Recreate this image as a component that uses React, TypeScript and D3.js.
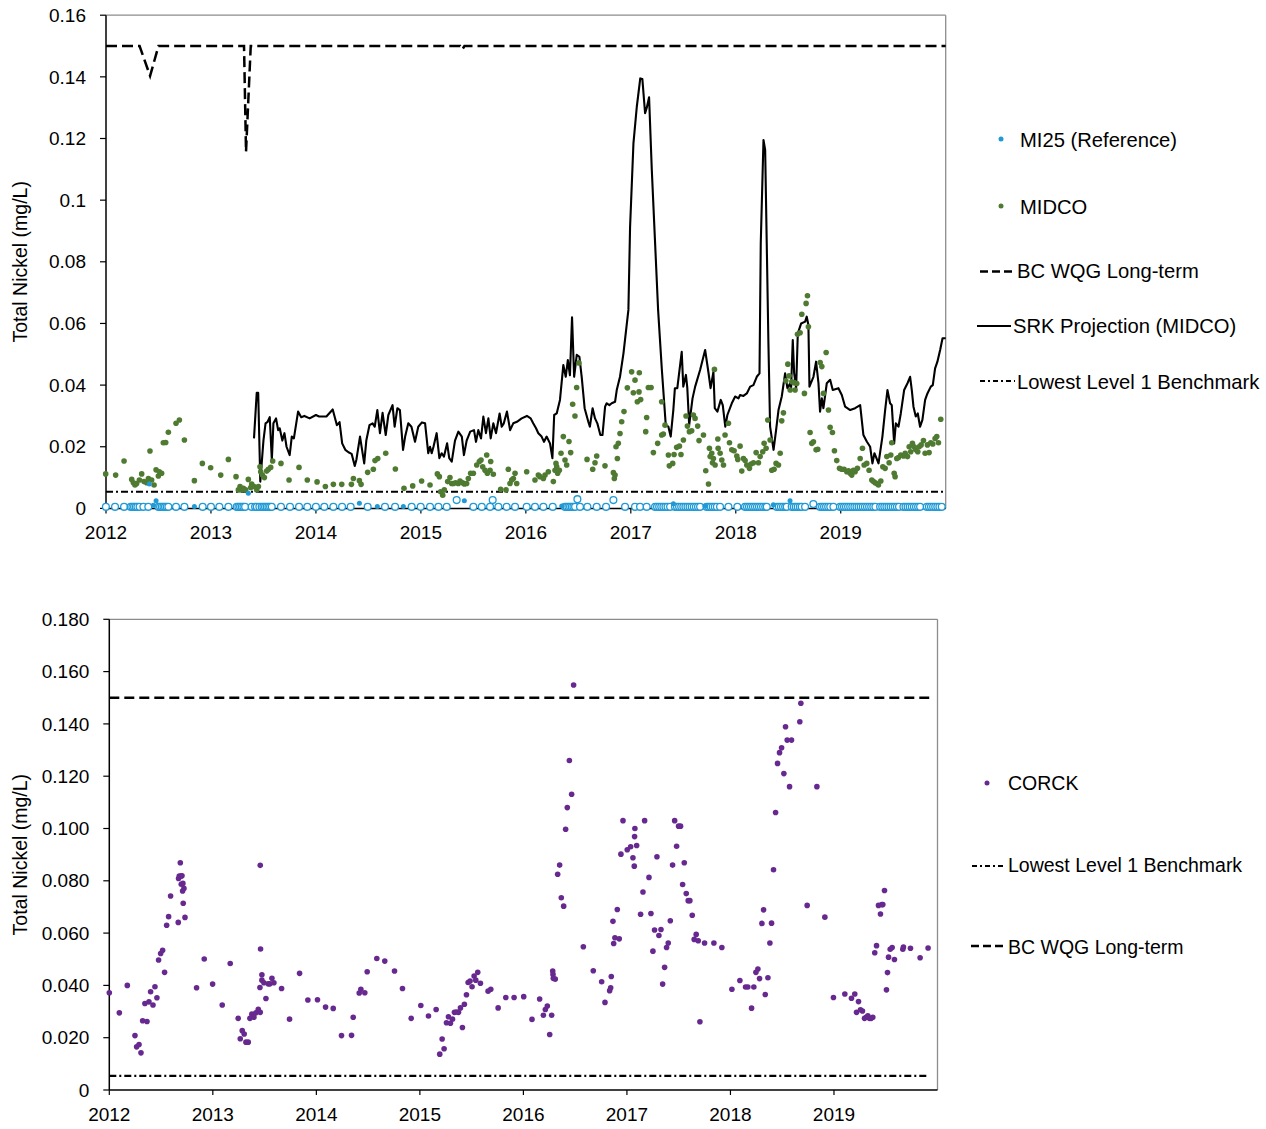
import React from "react";
import * as d3 from "d3";

const FONT = "'Liberation Sans', Arial, Helvetica, sans-serif";

// ---------- axis ticks ----------
const yearTicks = [2012, 2013, 2014, 2015, 2016, 2017, 2018, 2019];
const topYTicks = [0, 0.02, 0.04, 0.06, 0.08, 0.1, 0.12, 0.14, 0.16];
const topYTickLabels = ["0", "0.02", "0.04", "0.06", "0.08", "0.1", "0.12", "0.14", "0.16"];
const bottomYTicks = [0, 0.02, 0.04, 0.06, 0.08, 0.1, 0.12, 0.14, 0.16, 0.18];
const bottomYTickLabels = ["0", "0.020", "0.040", "0.060", "0.080", "0.100", "0.120", "0.140", "0.160", "0.180"];

// ---------- guideline values (mg/L) ----------
const lowestLevel1Benchmark = 0.0054;
const bcWqgLongTerm = 0.15;

// BC WQG long-term (hardness dependent) at MIDCO: [decimal year, mg/L]
const bcWqgTop: [number, number][] = [
  [2012.0, 0.15], [2012.32, 0.15], [2012.42, 0.1403], [2012.5, 0.15],
  [2013.315, 0.15], [2013.334, 0.1157], [2013.379, 0.15],
  [2015.375, 0.15], [2015.395, 0.1489], [2015.415, 0.15], [2020.0, 0.15],
];

// MI25 (Reference) – results below detection limit (open markers)
const mi25NonDetect: [number, number][] = [
  [2011.999, 0.0005], [2012.086, 0.0005], [2012.172, 0.0005], [2012.235, 0.0005], [2012.251, 0.0005],
  [2012.267, 0.0005], [2012.283, 0.0005], [2012.299, 0.0005], [2012.32, 0.0005], [2012.356, 0.0005],
  [2012.403, 0.0005], [2012.499, 0.0005], [2012.515, 0.0005], [2012.531, 0.0005], [2012.547, 0.0005],
  [2012.562, 0.0005], [2012.578, 0.0005], [2012.594, 0.0005], [2012.667, 0.0005], [2012.747, 0.0005],
  [2012.921, 0.0005], [2013.0, 0.0005], [2013.08, 0.0005], [2013.166, 0.0005], [2013.245, 0.0005],
  [2013.261, 0.0005], [2013.277, 0.0005], [2013.293, 0.0005], [2013.309, 0.0005], [2013.325, 0.0005],
  [2013.388, 0.0005], [2013.42, 0.0005], [2013.436, 0.0005], [2013.461, 0.0005], [2013.483, 0.0005],
  [2013.499, 0.0005], [2013.515, 0.0005], [2013.531, 0.0005], [2013.547, 0.0005], [2013.563, 0.0005],
  [2013.579, 0.0005], [2013.667, 0.0005], [2013.753, 0.0005], [2013.839, 0.0005], [2013.918, 0.0005],
  [2014.0, 0.0005], [2014.08, 0.0005], [2014.166, 0.0005], [2014.249, 0.0005], [2014.331, 0.0005],
  [2014.493, 0.0005], [2014.658, 0.0005], [2014.754, 0.0005], [2014.912, 0.0005], [2014.998, 0.0005],
  [2015.087, 0.0005], [2015.167, 0.0005], [2015.246, 0.0005], [2015.341, 0.0027], [2015.5, 0.0005],
  [2015.58, 0.0005], [2015.659, 0.0005], [2015.684, 0.0027], [2015.738, 0.0005], [2015.817, 0.0005],
  [2015.897, 0.0005], [2016.008, 0.0005], [2016.087, 0.0005], [2016.167, 0.0005], [2016.256, 0.0005],
  [2016.373, 0.0005], [2016.389, 0.0005], [2016.405, 0.0005], [2016.421, 0.0005], [2016.437, 0.0005],
  [2016.453, 0.0005], [2016.469, 0.0005], [2016.491, 0.003], [2016.516, 0.0005], [2016.586, 0.0005],
  [2016.675, 0.0005], [2016.764, 0.0005], [2016.834, 0.0027], [2016.945, 0.0005], [2017.04, 0.0005],
  [2017.088, 0.0005], [2017.151, 0.0005], [2017.231, 0.0005], [2017.25, 0.0005], [2017.27, 0.0005],
  [2017.29, 0.0005], [2017.31, 0.0005], [2017.33, 0.0005], [2017.35, 0.0005], [2017.374, 0.0005],
  [2017.421, 0.0005], [2017.44, 0.0005], [2017.46, 0.0005], [2017.48, 0.0005], [2017.5, 0.0005],
  [2017.52, 0.0005], [2017.54, 0.0005], [2017.56, 0.0005], [2017.58, 0.0005], [2017.6, 0.0005],
  [2017.62, 0.0005], [2017.64, 0.0005], [2017.66, 0.0005], [2017.723, 0.0005], [2017.742, 0.0005],
  [2017.761, 0.0005], [2017.78, 0.0005], [2017.8, 0.0005], [2017.82, 0.0005], [2017.85, 0.0005],
  [2017.93, 0.0005], [2018.015, 0.0005], [2018.088, 0.0005], [2018.107, 0.0005], [2018.126, 0.0005],
  [2018.145, 0.0005], [2018.164, 0.0005], [2018.183, 0.0005], [2018.202, 0.0005], [2018.221, 0.0005],
  [2018.24, 0.0005], [2018.26, 0.0005], [2018.28, 0.0005], [2018.295, 0.0005], [2018.39, 0.0005],
  [2018.41, 0.0005], [2018.43, 0.0005], [2018.45, 0.0005], [2018.47, 0.0005], [2018.485, 0.0005],
  [2018.533, 0.0005], [2018.552, 0.0005], [2018.571, 0.0005], [2018.59, 0.0005], [2018.61, 0.0005],
  [2018.628, 0.0005], [2018.66, 0.0005], [2018.739, 0.0014], [2018.803, 0.0005], [2018.822, 0.0005],
  [2018.841, 0.0005], [2018.86, 0.0005], [2018.88, 0.0005], [2018.9, 0.0005], [2018.93, 0.0005],
  [2018.993, 0.0005], [2019.012, 0.0005], [2019.031, 0.0005], [2019.05, 0.0005], [2019.07, 0.0005],
  [2019.09, 0.0005], [2019.11, 0.0005], [2019.13, 0.0005], [2019.15, 0.0005], [2019.17, 0.0005],
  [2019.19, 0.0005], [2019.21, 0.0005], [2019.23, 0.0005], [2019.25, 0.0005], [2019.27, 0.0005],
  [2019.29, 0.0005], [2019.31, 0.0005], [2019.33, 0.0005], [2019.375, 0.0005], [2019.395, 0.0005],
  [2019.415, 0.0005], [2019.435, 0.0005], [2019.455, 0.0005], [2019.475, 0.0005], [2019.495, 0.0005],
  [2019.515, 0.0005], [2019.535, 0.0005], [2019.555, 0.0005], [2019.597, 0.0005], [2019.617, 0.0005],
  [2019.637, 0.0005], [2019.657, 0.0005], [2019.677, 0.0005], [2019.697, 0.0005], [2019.717, 0.0005],
  [2019.737, 0.0005], [2019.756, 0.0005], [2019.82, 0.0005], [2019.84, 0.0005], [2019.86, 0.0005],
  [2019.88, 0.0005], [2019.9, 0.0005], [2019.92, 0.0005], [2019.94, 0.0005], [2019.962, 0.0005],
];

// MI25 (Reference) – detected results
const mi25Detect: [number, number][] = [
  [2012.413, 0.0079], [2012.451, 0.001], [2012.477, 0.0025], [2012.842, 0.0006], [2013.356, 0.0049],
  [2014.414, 0.0017], [2014.585, 0.0006], [2014.833, 0.0006], [2015.414, 0.0025], [2016.342, 0.0008],
  [2017.405, 0.0015], [2017.707, 0.0008], [2018.358, 0.0012], [2018.517, 0.0025],
];

// MIDCO measured total nickel
const midco: [number, number][] = [
  [2011.997, 0.0112], [2012.092, 0.0108], [2012.172, 0.0154], [2012.245, 0.0094], [2012.261, 0.0083],
  [2012.276, 0.0076], [2012.292, 0.0081], [2012.318, 0.0092], [2012.34, 0.0112], [2012.362, 0.0087],
  [2012.388, 0.0083], [2012.404, 0.0097], [2012.419, 0.0186], [2012.435, 0.0092], [2012.458, 0.0076],
  [2012.477, 0.0125], [2012.499, 0.0105], [2012.508, 0.0119], [2012.53, 0.0114], [2012.546, 0.0213],
  [2012.569, 0.0214], [2012.594, 0.0247], [2012.667, 0.0276], [2012.699, 0.0287], [2012.747, 0.0222],
  [2012.842, 0.009], [2012.918, 0.0146], [2012.997, 0.0132], [2013.093, 0.0108], [2013.166, 0.0159],
  [2013.239, 0.0103], [2013.261, 0.006], [2013.277, 0.0071], [2013.293, 0.006], [2013.309, 0.0065],
  [2013.331, 0.006], [2013.356, 0.0094], [2013.379, 0.0068], [2013.388, 0.0079], [2013.41, 0.0071],
  [2013.436, 0.006], [2013.452, 0.0071], [2013.467, 0.0135], [2013.474, 0.0119], [2013.49, 0.0108],
  [2013.509, 0.01], [2013.531, 0.0121], [2013.547, 0.0127], [2013.569, 0.0133], [2013.588, 0.0154],
  [2013.667, 0.0146], [2013.744, 0.0092], [2013.839, 0.0133], [2013.918, 0.0092], [2014.011, 0.0086],
  [2014.09, 0.0071], [2014.166, 0.0078], [2014.246, 0.0078], [2014.338, 0.0078], [2014.357, 0.0097],
  [2014.414, 0.009], [2014.43, 0.0078], [2014.493, 0.0117], [2014.547, 0.0127], [2014.563, 0.0155],
  [2014.589, 0.0162], [2014.665, 0.0179], [2014.757, 0.0128], [2014.839, 0.0065], [2014.922, 0.0073],
  [2015.007, 0.0089], [2015.087, 0.0076], [2015.157, 0.0112], [2015.176, 0.0103], [2015.188, 0.0054],
  [2015.208, 0.0043], [2015.223, 0.006], [2015.255, 0.0087], [2015.277, 0.01], [2015.293, 0.0081],
  [2015.309, 0.0081], [2015.331, 0.0083], [2015.357, 0.0081], [2015.373, 0.0089], [2015.398, 0.0083],
  [2015.414, 0.0079], [2015.436, 0.0081], [2015.452, 0.0097], [2015.474, 0.0114], [2015.5, 0.0114],
  [2015.532, 0.0141], [2015.557, 0.0152], [2015.573, 0.0157], [2015.589, 0.0135], [2015.611, 0.0124],
  [2015.627, 0.0173], [2015.633, 0.0114], [2015.659, 0.0124], [2015.665, 0.0152], [2015.69, 0.0111],
  [2015.76, 0.0062], [2015.811, 0.006], [2015.833, 0.0127], [2015.849, 0.0081], [2015.865, 0.0092],
  [2015.881, 0.0097], [2015.897, 0.0114], [2015.913, 0.0081], [2016.008, 0.0119], [2016.087, 0.0092],
  [2016.119, 0.0108], [2016.135, 0.0103], [2016.167, 0.0097], [2016.183, 0.0108], [2016.214, 0.0119],
  [2016.262, 0.0087], [2016.278, 0.0124], [2016.287, 0.0146], [2016.294, 0.0135], [2016.303, 0.0114],
  [2016.319, 0.0124], [2016.335, 0.0179], [2016.357, 0.0233], [2016.373, 0.0157], [2016.389, 0.0141],
  [2016.411, 0.0217], [2016.427, 0.0181], [2016.446, 0.0338], [2016.468, 0.03], [2016.484, 0.0392],
  [2016.506, 0.0472], [2016.583, 0.0159], [2016.637, 0.0127], [2016.659, 0.0148], [2016.675, 0.017],
  [2016.754, 0.0138], [2016.834, 0.0116], [2016.843, 0.0097], [2016.85, 0.0108], [2016.859, 0.02],
  [2016.872, 0.0162], [2016.881, 0.0211], [2016.897, 0.0243], [2016.913, 0.0281], [2016.935, 0.0314],
  [2016.967, 0.0391], [2017.008, 0.0443], [2017.024, 0.0375], [2017.04, 0.0416], [2017.062, 0.0346],
  [2017.078, 0.0378], [2017.081, 0.044], [2017.094, 0.0353], [2017.142, 0.0249], [2017.151, 0.0295],
  [2017.167, 0.0392], [2017.193, 0.0392], [2017.215, 0.0181], [2017.256, 0.0211], [2017.294, 0.0346],
  [2017.294, 0.0238], [2017.31, 0.0241], [2017.326, 0.027], [2017.358, 0.0173], [2017.367, 0.0138],
  [2017.399, 0.0146], [2017.412, 0.0175], [2017.437, 0.0198], [2017.463, 0.0202], [2017.478, 0.0175],
  [2017.501, 0.0222], [2017.526, 0.03], [2017.539, 0.0267], [2017.558, 0.0249], [2017.58, 0.0252],
  [2017.596, 0.0303], [2017.612, 0.0292], [2017.637, 0.0267], [2017.65, 0.022], [2017.692, 0.0238],
  [2017.714, 0.0122], [2017.74, 0.0079], [2017.749, 0.0195], [2017.756, 0.0168], [2017.771, 0.0179],
  [2017.778, 0.0148], [2017.787, 0.0162], [2017.797, 0.0451], [2017.803, 0.0141], [2017.829, 0.0225],
  [2017.832, 0.0195], [2017.851, 0.0179], [2017.867, 0.0157], [2017.883, 0.0141], [2017.898, 0.0238],
  [2017.93, 0.0276], [2017.94, 0.0213], [2017.962, 0.019], [2017.984, 0.0187], [2018.01, 0.017],
  [2018.019, 0.0159], [2018.041, 0.0202], [2018.057, 0.0121], [2018.073, 0.0162], [2018.089, 0.0155],
  [2018.105, 0.0141], [2018.13, 0.013], [2018.146, 0.0144], [2018.168, 0.0148], [2018.194, 0.0181],
  [2018.216, 0.0148], [2018.232, 0.0168], [2018.257, 0.0184], [2018.27, 0.0211], [2018.289, 0.0195],
  [2018.305, 0.0287], [2018.327, 0.0222], [2018.343, 0.0124], [2018.365, 0.0127], [2018.384, 0.0146],
  [2018.407, 0.0141], [2018.423, 0.0179], [2018.438, 0.0284], [2018.454, 0.031], [2018.477, 0.0414],
  [2018.496, 0.0468], [2018.508, 0.043], [2018.518, 0.0384], [2018.534, 0.0411], [2018.556, 0.0408],
  [2018.565, 0.0384], [2018.581, 0.0405], [2018.588, 0.0565], [2018.613, 0.057], [2018.629, 0.063],
  [2018.654, 0.0373], [2018.67, 0.0665], [2018.683, 0.069], [2018.692, 0.0589], [2018.708, 0.0246],
  [2018.724, 0.0211], [2018.74, 0.0216], [2018.765, 0.019], [2018.781, 0.0192], [2018.804, 0.0473],
  [2018.82, 0.046], [2018.835, 0.0373], [2018.861, 0.0506], [2018.883, 0.0319], [2018.899, 0.0263],
  [2018.921, 0.0246], [2018.94, 0.0187], [2018.962, 0.0155], [2018.988, 0.013], [2019.01, 0.0127],
  [2019.032, 0.0127], [2019.058, 0.0119], [2019.074, 0.0122], [2019.09, 0.0114], [2019.105, 0.0108],
  [2019.121, 0.0124], [2019.137, 0.0119], [2019.159, 0.013], [2019.185, 0.0162], [2019.207, 0.0195],
  [2019.223, 0.0141], [2019.248, 0.0146], [2019.27, 0.0124], [2019.296, 0.0092], [2019.312, 0.0087],
  [2019.328, 0.0083], [2019.344, 0.0081], [2019.359, 0.0076], [2019.382, 0.0089], [2019.401, 0.0135],
  [2019.423, 0.013], [2019.439, 0.0168], [2019.461, 0.0148], [2019.477, 0.0173], [2019.486, 0.0213],
  [2019.509, 0.0114], [2019.518, 0.0103], [2019.534, 0.0162], [2019.55, 0.0165], [2019.572, 0.0173],
  [2019.598, 0.017], [2019.614, 0.0179], [2019.636, 0.0168], [2019.652, 0.02], [2019.667, 0.0184],
  [2019.683, 0.0211], [2019.699, 0.02], [2019.715, 0.019], [2019.734, 0.0184], [2019.747, 0.02],
  [2019.766, 0.0206], [2019.788, 0.022], [2019.804, 0.0179], [2019.826, 0.0206], [2019.842, 0.0181],
  [2019.858, 0.0213], [2019.877, 0.0209], [2019.899, 0.0227], [2019.915, 0.0233], [2019.931, 0.0213],
  [2019.953, 0.0289],
];

// SRK projection for MIDCO
const srkProjection: [number, number][] = [
  [2013.41, 0.0227], [2013.436, 0.0375], [2013.45, 0.0375], [2013.47, 0.0087], [2013.5, 0.022],
  [2013.52, 0.0276], [2013.54, 0.0281], [2013.56, 0.0296], [2013.58, 0.0157], [2013.595, 0.0276],
  [2013.62, 0.0292], [2013.64, 0.0254], [2013.655, 0.026], [2013.68, 0.022], [2013.7, 0.0244],
  [2013.72, 0.02], [2013.75, 0.0173], [2013.77, 0.0233], [2013.79, 0.0227], [2013.83, 0.0314],
  [2013.86, 0.0296], [2013.89, 0.03], [2013.94, 0.0292], [2014.0, 0.0303], [2014.03, 0.0298],
  [2014.1, 0.0298], [2014.16, 0.0321], [2014.2, 0.027], [2014.225, 0.028], [2014.25, 0.0211],
  [2014.28, 0.019], [2014.31, 0.0182], [2014.34, 0.0177], [2014.37, 0.0138], [2014.385, 0.0157],
  [2014.42, 0.0233], [2014.46, 0.0146], [2014.48, 0.022], [2014.51, 0.027], [2014.54, 0.0276],
  [2014.56, 0.0265], [2014.585, 0.0319], [2014.61, 0.0244], [2014.635, 0.031], [2014.665, 0.0238],
  [2014.69, 0.0303], [2014.73, 0.0335], [2014.75, 0.0265], [2014.776, 0.0325], [2014.8, 0.0319],
  [2014.83, 0.019], [2014.85, 0.0233], [2014.88, 0.0276], [2014.91, 0.0265], [2014.944, 0.0216],
  [2014.975, 0.0265], [2015.01, 0.0279], [2015.04, 0.0276], [2015.07, 0.0179], [2015.087, 0.02],
  [2015.103, 0.0179], [2015.12, 0.02], [2015.15, 0.0244], [2015.176, 0.0163], [2015.198, 0.0179],
  [2015.22, 0.0168], [2015.25, 0.0211], [2015.27, 0.0163], [2015.294, 0.0152], [2015.325, 0.022],
  [2015.357, 0.0249], [2015.39, 0.0233], [2015.41, 0.0173], [2015.436, 0.022], [2015.47, 0.0249],
  [2015.506, 0.0254], [2015.525, 0.0216], [2015.547, 0.0254], [2015.573, 0.0227], [2015.595, 0.0298],
  [2015.62, 0.0244], [2015.643, 0.0292], [2015.665, 0.0227], [2015.69, 0.0276], [2015.716, 0.0244],
  [2015.75, 0.0308], [2015.77, 0.0265], [2015.79, 0.0276], [2015.82, 0.0314], [2015.85, 0.0254],
  [2015.88, 0.0276], [2015.915, 0.0281], [2015.96, 0.0292], [2016.01, 0.03], [2016.046, 0.0292],
  [2016.07, 0.0276], [2016.097, 0.026], [2016.119, 0.0244], [2016.15, 0.0233], [2016.173, 0.0216],
  [2016.198, 0.0233], [2016.23, 0.0211], [2016.253, 0.0163], [2016.27, 0.0303], [2016.294, 0.0308],
  [2016.325, 0.0352], [2016.357, 0.0465], [2016.38, 0.0427], [2016.4, 0.0481], [2016.42, 0.0432],
  [2016.44, 0.062], [2016.46, 0.0427], [2016.485, 0.0498], [2016.51, 0.0492], [2016.532, 0.0427],
  [2016.56, 0.0325], [2016.595, 0.0281], [2016.61, 0.0265], [2016.636, 0.0325], [2016.659, 0.0292],
  [2016.681, 0.0276], [2016.71, 0.0238], [2016.73, 0.0238], [2016.755, 0.033], [2016.77, 0.0341],
  [2016.796, 0.0335], [2016.818, 0.0341], [2016.85, 0.0346], [2016.866, 0.0384], [2016.897, 0.0427],
  [2016.93, 0.0503], [2016.977, 0.0644], [2016.993, 0.0914], [2017.025, 0.1184], [2017.057, 0.1303],
  [2017.09, 0.1395], [2017.11, 0.1393], [2017.136, 0.1282], [2017.152, 0.13], [2017.174, 0.1334],
  [2017.2, 0.1098], [2017.23, 0.0871], [2017.26, 0.0644], [2017.295, 0.0454], [2017.333, 0.027],
  [2017.358, 0.0265], [2017.38, 0.0233], [2017.405, 0.0319], [2017.42, 0.039], [2017.443, 0.039],
  [2017.485, 0.0508], [2017.5, 0.0395], [2017.525, 0.0433], [2017.538, 0.0392], [2017.556, 0.027],
  [2017.588, 0.0357], [2017.613, 0.0395], [2017.66, 0.0449], [2017.708, 0.0514], [2017.74, 0.044],
  [2017.76, 0.039], [2017.787, 0.0443], [2017.8, 0.0325], [2017.825, 0.0314], [2017.857, 0.0352],
  [2017.876, 0.0335], [2017.9, 0.0265], [2017.92, 0.0303], [2017.962, 0.0341], [2017.994, 0.0363],
  [2018.026, 0.0357], [2018.041, 0.0368], [2018.073, 0.0365], [2018.105, 0.0373], [2018.137, 0.0395],
  [2018.168, 0.04], [2018.2, 0.0427], [2018.226, 0.0438], [2018.238, 0.086], [2018.264, 0.1195],
  [2018.28, 0.1163], [2018.295, 0.086], [2018.311, 0.0536], [2018.327, 0.0265], [2018.36, 0.019],
  [2018.384, 0.0254], [2018.407, 0.0319], [2018.438, 0.0363], [2018.47, 0.0438], [2018.492, 0.039],
  [2018.518, 0.0406], [2018.527, 0.039], [2018.543, 0.0546], [2018.556, 0.044], [2018.575, 0.039],
  [2018.591, 0.0568], [2018.623, 0.06], [2018.661, 0.0606], [2018.676, 0.0622], [2018.692, 0.0595],
  [2018.702, 0.0395], [2018.74, 0.0427], [2018.765, 0.0476], [2018.788, 0.0406], [2018.803, 0.0314],
  [2018.82, 0.0357], [2018.835, 0.0325], [2018.867, 0.0406], [2018.899, 0.0417], [2018.924, 0.0384],
  [2018.978, 0.039], [2019.01, 0.0368], [2019.042, 0.033], [2019.09, 0.0319], [2019.137, 0.0325],
  [2019.185, 0.0335], [2019.216, 0.0238], [2019.248, 0.0217], [2019.28, 0.02], [2019.302, 0.0146],
  [2019.321, 0.0179], [2019.36, 0.0146], [2019.397, 0.0233], [2019.423, 0.0319], [2019.445, 0.0384],
  [2019.47, 0.0341], [2019.486, 0.0335], [2019.509, 0.0211], [2019.525, 0.0276], [2019.55, 0.0265],
  [2019.572, 0.0308], [2019.604, 0.0384], [2019.636, 0.0406], [2019.661, 0.0427], [2019.677, 0.0384],
  [2019.693, 0.033], [2019.715, 0.0298], [2019.734, 0.0308], [2019.756, 0.0265], [2019.778, 0.0287],
  [2019.804, 0.0352], [2019.826, 0.0373], [2019.858, 0.0395], [2019.877, 0.04], [2019.899, 0.0454],
  [2019.921, 0.0476], [2019.947, 0.0514], [2019.97, 0.0552], [2020.0, 0.0552],
];

// CORCK measured total nickel
const corck: [number, number][] = [
  [2012.0, 0.0372], [2012.097, 0.0295], [2012.174, 0.04], [2012.248, 0.0208], [2012.264, 0.0165],
  [2012.287, 0.0174], [2012.306, 0.0142], [2012.322, 0.0265], [2012.344, 0.0331], [2012.364, 0.0262],
  [2012.383, 0.0337], [2012.399, 0.0376], [2012.422, 0.0325], [2012.441, 0.0395], [2012.46, 0.0353],
  [2012.476, 0.0497], [2012.496, 0.0522], [2012.515, 0.0534], [2012.534, 0.045], [2012.554, 0.063],
  [2012.573, 0.0663], [2012.592, 0.0742], [2012.666, 0.0641], [2012.669, 0.0809], [2012.676, 0.0818],
  [2012.686, 0.0869], [2012.692, 0.0818], [2012.702, 0.0819], [2012.695, 0.0787], [2012.711, 0.079],
  [2012.708, 0.0761], [2012.721, 0.0771], [2012.714, 0.0714], [2012.731, 0.066], [2012.843, 0.0391],
  [2012.917, 0.0501], [2012.998, 0.0405], [2013.091, 0.0325], [2013.168, 0.0484], [2013.245, 0.0274],
  [2013.265, 0.0196], [2013.284, 0.0227], [2013.303, 0.0214], [2013.32, 0.0183], [2013.342, 0.0183],
  [2013.358, 0.0274], [2013.377, 0.029], [2013.397, 0.0278], [2013.416, 0.0295], [2013.439, 0.0309],
  [2013.458, 0.0297], [2013.455, 0.0392], [2013.458, 0.0859], [2013.461, 0.0539], [2013.474, 0.0441],
  [2013.474, 0.042], [2013.493, 0.041], [2013.513, 0.035], [2013.535, 0.0406], [2013.551, 0.0406],
  [2013.571, 0.0427], [2013.59, 0.041], [2013.664, 0.0388], [2013.741, 0.0271], [2013.838, 0.0446],
  [2013.918, 0.0344], [2014.011, 0.0345], [2014.089, 0.0317], [2014.163, 0.0312], [2014.243, 0.0208],
  [2014.34, 0.0209], [2014.356, 0.0278], [2014.414, 0.0371], [2014.43, 0.0385], [2014.468, 0.0372],
  [2014.491, 0.0452], [2014.584, 0.0503], [2014.661, 0.0493], [2014.755, 0.0455], [2014.832, 0.0388],
  [2014.916, 0.0274], [2015.009, 0.0323], [2015.083, 0.0283], [2015.157, 0.0308], [2015.192, 0.0137],
  [2015.215, 0.0195], [2015.234, 0.0158], [2015.257, 0.0257], [2015.276, 0.028], [2015.295, 0.0255],
  [2015.315, 0.0271], [2015.334, 0.0297], [2015.353, 0.0298], [2015.373, 0.0297], [2015.392, 0.0314],
  [2015.411, 0.0239], [2015.43, 0.0328], [2015.45, 0.0364], [2015.466, 0.0411], [2015.485, 0.0417],
  [2015.504, 0.0395], [2015.524, 0.0436], [2015.54, 0.042], [2015.559, 0.045], [2015.585, 0.0408],
  [2015.659, 0.0378], [2015.685, 0.0385], [2015.756, 0.0314], [2015.83, 0.0354], [2015.91, 0.0354],
  [2016.003, 0.0357], [2016.083, 0.027], [2016.157, 0.0348], [2016.193, 0.0286], [2016.212, 0.0308],
  [2016.231, 0.0321], [2016.254, 0.0212], [2016.273, 0.0286], [2016.283, 0.0455], [2016.286, 0.0442],
  [2016.289, 0.0427], [2016.308, 0.0424], [2016.331, 0.0825], [2016.35, 0.086], [2016.366, 0.0735],
  [2016.389, 0.0703], [2016.408, 0.0997], [2016.424, 0.108], [2016.444, 0.126], [2016.466, 0.1131],
  [2016.485, 0.1549], [2016.579, 0.0548], [2016.675, 0.0456], [2016.756, 0.0414], [2016.788, 0.0335],
  [2016.833, 0.038], [2016.843, 0.0391], [2016.849, 0.0434], [2016.865, 0.0645], [2016.872, 0.056],
  [2016.884, 0.0582], [2016.907, 0.069], [2016.926, 0.0578], [2016.942, 0.0902], [2016.962, 0.103],
  [2017.003, 0.0919], [2017.036, 0.093], [2017.058, 0.0888], [2017.071, 0.0856], [2017.074, 0.0969],
  [2017.077, 0.1], [2017.094, 0.0935], [2017.132, 0.0672], [2017.155, 0.0757], [2017.171, 0.103],
  [2017.213, 0.0813], [2017.232, 0.0675], [2017.251, 0.0531], [2017.267, 0.0612], [2017.29, 0.0892],
  [2017.309, 0.0591], [2017.329, 0.0614], [2017.345, 0.0405], [2017.364, 0.0469], [2017.383, 0.0545],
  [2017.399, 0.0562], [2017.419, 0.0647], [2017.441, 0.086], [2017.461, 0.103], [2017.48, 0.0932],
  [2017.499, 0.1009], [2017.518, 0.1009], [2017.538, 0.0786], [2017.554, 0.0869], [2017.573, 0.0751],
  [2017.592, 0.0724], [2017.608, 0.0724], [2017.631, 0.0668], [2017.65, 0.0576], [2017.669, 0.0595],
  [2017.689, 0.0571], [2017.705, 0.0261], [2017.75, 0.0562], [2017.84, 0.0562], [2017.917, 0.0545],
  [2018.014, 0.0385], [2018.091, 0.0419], [2018.146, 0.0394], [2018.168, 0.0394], [2018.204, 0.0313],
  [2018.226, 0.0394], [2018.246, 0.045], [2018.265, 0.0463], [2018.281, 0.0426], [2018.304, 0.0637],
  [2018.32, 0.0689], [2018.336, 0.0365], [2018.362, 0.0429], [2018.381, 0.0562], [2018.397, 0.0638],
  [2018.416, 0.0842], [2018.436, 0.1061], [2018.455, 0.1249], [2018.474, 0.129], [2018.494, 0.1309],
  [2018.516, 0.121], [2018.532, 0.1389], [2018.548, 0.1338], [2018.571, 0.116], [2018.59, 0.1338],
  [2018.67, 0.1408], [2018.68, 0.1479], [2018.741, 0.0706], [2018.835, 0.116], [2018.912, 0.0661],
  [2018.995, 0.0354], [2019.105, 0.0367], [2019.169, 0.0351], [2019.201, 0.0367], [2019.218, 0.0297],
  [2019.237, 0.0338], [2019.256, 0.0307], [2019.275, 0.0302], [2019.295, 0.0274], [2019.311, 0.0278],
  [2019.327, 0.0284], [2019.343, 0.0274], [2019.359, 0.0274], [2019.375, 0.0278], [2019.394, 0.0525],
  [2019.411, 0.0552], [2019.43, 0.0706], [2019.449, 0.0673], [2019.462, 0.0709], [2019.472, 0.0709],
  [2019.488, 0.0763], [2019.507, 0.0383], [2019.517, 0.0449], [2019.527, 0.0508], [2019.543, 0.0538],
  [2019.562, 0.0545], [2019.584, 0.0499], [2019.665, 0.0538], [2019.671, 0.0547], [2019.739, 0.0542],
  [2019.832, 0.0506], [2019.909, 0.0543],
];

// ---------- colours & styles ----------
const BLUE = "#1f9ad6";
const GREEN = "#4f7a31";
const PURPLE = "#67298f";
const FRAME_GREY = "#8c8c8c";
const DASH = "11,5";
const DASH_DOT = "7,3,2,3";

// ---------- scales ----------
const topX = d3.scaleLinear().domain([2012, 2020]).range([106, 945.7]);
const topY = d3.scaleLinear().domain([0, 0.16]).range([508.4, 15.2]);
const botX = d3.scaleLinear().domain([2012, 2020]).range([109.3, 937.5]);
const botY = d3.scaleLinear().domain([0, 0.18]).range([1090, 619.3]);

type Pt = [number, number];

function lineGen(sx: d3.ScaleLinear<number, number>, sy: d3.ScaleLinear<number, number>) {
  return d3
    .line<Pt>()
    .x((d) => sx(d[0]))
    .y((d) => sy(d[1]));
}

function Axes({
  sx,
  sy,
  yTicks,
  yLabels,
}: {
  sx: d3.ScaleLinear<number, number>;
  sy: d3.ScaleLinear<number, number>;
  yTicks: number[];
  yLabels: string[];
}) {
  const [x0, x1] = sx.range();
  const [y0, y1] = sy.range();
  return (
    <g fontFamily={FONT} fill="#000">
      {/* frame on top / right */}
      <line x1={x0} x2={x1} y1={y1} y2={y1} stroke={FRAME_GREY} strokeWidth={1.3} />
      <line x1={x1} x2={x1} y1={y1} y2={y0} stroke={FRAME_GREY} strokeWidth={1.3} />
      {/* y axis */}
      <line x1={x0} x2={x0} y1={y1} y2={y0} stroke="#000" strokeWidth={1.5} />
      {yTicks.map((t, i) => (
        <g key={"y" + i}>
          <line x1={x0 - 6} x2={x0} y1={sy(t)} y2={sy(t)} stroke="#000" strokeWidth={1.2} />
          <text x={x0 - 20} y={sy(t)} dy="0.35em" textAnchor="end" fontSize={19}>
            {yLabels[i]}
          </text>
        </g>
      ))}
      {/* x axis */}
      <line x1={x0} x2={x1} y1={y0} y2={y0} stroke="#000" strokeWidth={1.5} />
      {yearTicks.map((t) => (
        <g key={"x" + t}>
          <line x1={sx(t)} x2={sx(t)} y1={y0} y2={y0 + 5} stroke="#000" strokeWidth={1.2} />
          <text x={sx(t)} y={y0 + 24} dy="0.35em" textAnchor="middle" fontSize={19}>
            {t}
          </text>
        </g>
      ))}
      <text
        transform={`translate(20,${(y0 + y1) / 2}) rotate(-90)`}
        textAnchor="middle"
        dy="0.35em"
        fontSize={19.5}
      >
        Total Nickel (mg/L)
      </text>
    </g>
  );
}

function LegendText({
  x,
  y,
  size,
  children,
}: {
  x: number;
  y: number;
  size: number;
  children: React.ReactNode;
}) {
  return (
    <text x={x} y={y} dy="0.35em" fontFamily={FONT} fontSize={size} fill="#000">
      {children}
    </text>
  );
}

export default function App() {
  const topLine = lineGen(topX, topY);
  const botLine = lineGen(botX, botY);

  const topBench: Pt[] = [
    [2012, lowestLevel1Benchmark],
    [2020, lowestLevel1Benchmark],
  ];
  const botBench: Pt[] = [
    [2012, lowestLevel1Benchmark],
    [2019.92, lowestLevel1Benchmark],
  ];
  const botWqg: Pt[] = [
    [2012, bcWqgLongTerm],
    [2019.92, bcWqgLongTerm],
  ];

  return (
    <div style={{ position: "absolute", left: 0, top: 0 }}>
      <svg width={1266} height={1129} style={{ display: "block", background: "#fff" }}>
        <rect width={1266} height={1129} fill="#fff" />

        {/* ===== MIDCO / MI25 panel ===== */}
        <Axes sx={topX} sy={topY} yTicks={topYTicks} yLabels={topYTickLabels} />
        <path d={topLine(bcWqgTop) || ""} fill="none" stroke="#000" strokeWidth={2.5} strokeDasharray={DASH} />
        <path d={topLine(topBench) || ""} fill="none" stroke="#000" strokeWidth={2.2} strokeDasharray={DASH_DOT} />
        <path d={topLine(srkProjection) || ""} fill="none" stroke="#000" strokeWidth={2.1} strokeLinejoin="round" />
        {midco.map((d, i) => (
          <circle key={"m" + i} cx={topX(d[0])} cy={topY(d[1])} r={2.8} fill={GREEN} />
        ))}
        {mi25NonDetect.map((d, i) => (
          <circle key={"n" + i} cx={topX(d[0])} cy={topY(d[1])} r={3.4} fill="#fff" stroke={BLUE} strokeWidth={1.3} />
        ))}
        {mi25Detect.map((d, i) => (
          <circle key={"d" + i} cx={topX(d[0])} cy={topY(d[1])} r={2.5} fill={BLUE} />
        ))}

        {/* legend – upper panel */}
        <circle cx={1001} cy={139} r={2.5} fill={BLUE} />
        <LegendText x={1020} y={140} size={20.2}>MI25 (Reference)</LegendText>
        <circle cx={1001} cy={206} r={2.5} fill={GREEN} />
        <LegendText x={1020} y={207} size={20.2}>MIDCO</LegendText>
        <line x1={980} x2={1014} y1={271.5} y2={271.5} stroke="#000" strokeWidth={2.4} strokeDasharray="8,4" />
        <LegendText x={1017} y={271} size={20.2}>BC WQG Long-term</LegendText>
        <line x1={977} x2={1011} y1={326} y2={326} stroke="#000" strokeWidth={1.8} />
        <LegendText x={1013} y={326} size={20.2}>SRK Projection (MIDCO)</LegendText>
        <line x1={980} x2={1015} y1={381} y2={381} stroke="#000" strokeWidth={2} strokeDasharray="5,3,2,3" />
        <LegendText x={1017} y={382} size={20.2}>Lowest Level 1 Benchmark</LegendText>

        {/* ===== CORCK panel ===== */}
        <Axes sx={botX} sy={botY} yTicks={bottomYTicks} yLabels={bottomYTickLabels} />
        <path d={botLine(botWqg) || ""} fill="none" stroke="#000" strokeWidth={2.4} strokeDasharray="10,5" />
        <path d={botLine(botBench) || ""} fill="none" stroke="#000" strokeWidth={2.1} strokeDasharray={DASH_DOT} />
        {corck.map((d, i) => (
          <circle key={"c" + i} cx={botX(d[0])} cy={botY(d[1])} r={2.8} fill={PURPLE} />
        ))}

        {/* legend – lower panel */}
        <circle cx={987} cy={783} r={2.5} fill={PURPLE} />
        <LegendText x={1008} y={783} size={19.5}>CORCK</LegendText>
        <line x1={972} x2={1006} y1={866} y2={866} stroke="#000" strokeWidth={2} strokeDasharray="5,3,2,3" />
        <LegendText x={1008} y={865} size={19.5}>Lowest Level 1 Benchmark</LegendText>
        <line x1={971} x2={1006} y1={946} y2={946} stroke="#000" strokeWidth={2.4} strokeDasharray="8,4" />
        <LegendText x={1008} y={947} size={19.5}>BC WQG Long-term</LegendText>
      </svg>
    </div>
  );
}
